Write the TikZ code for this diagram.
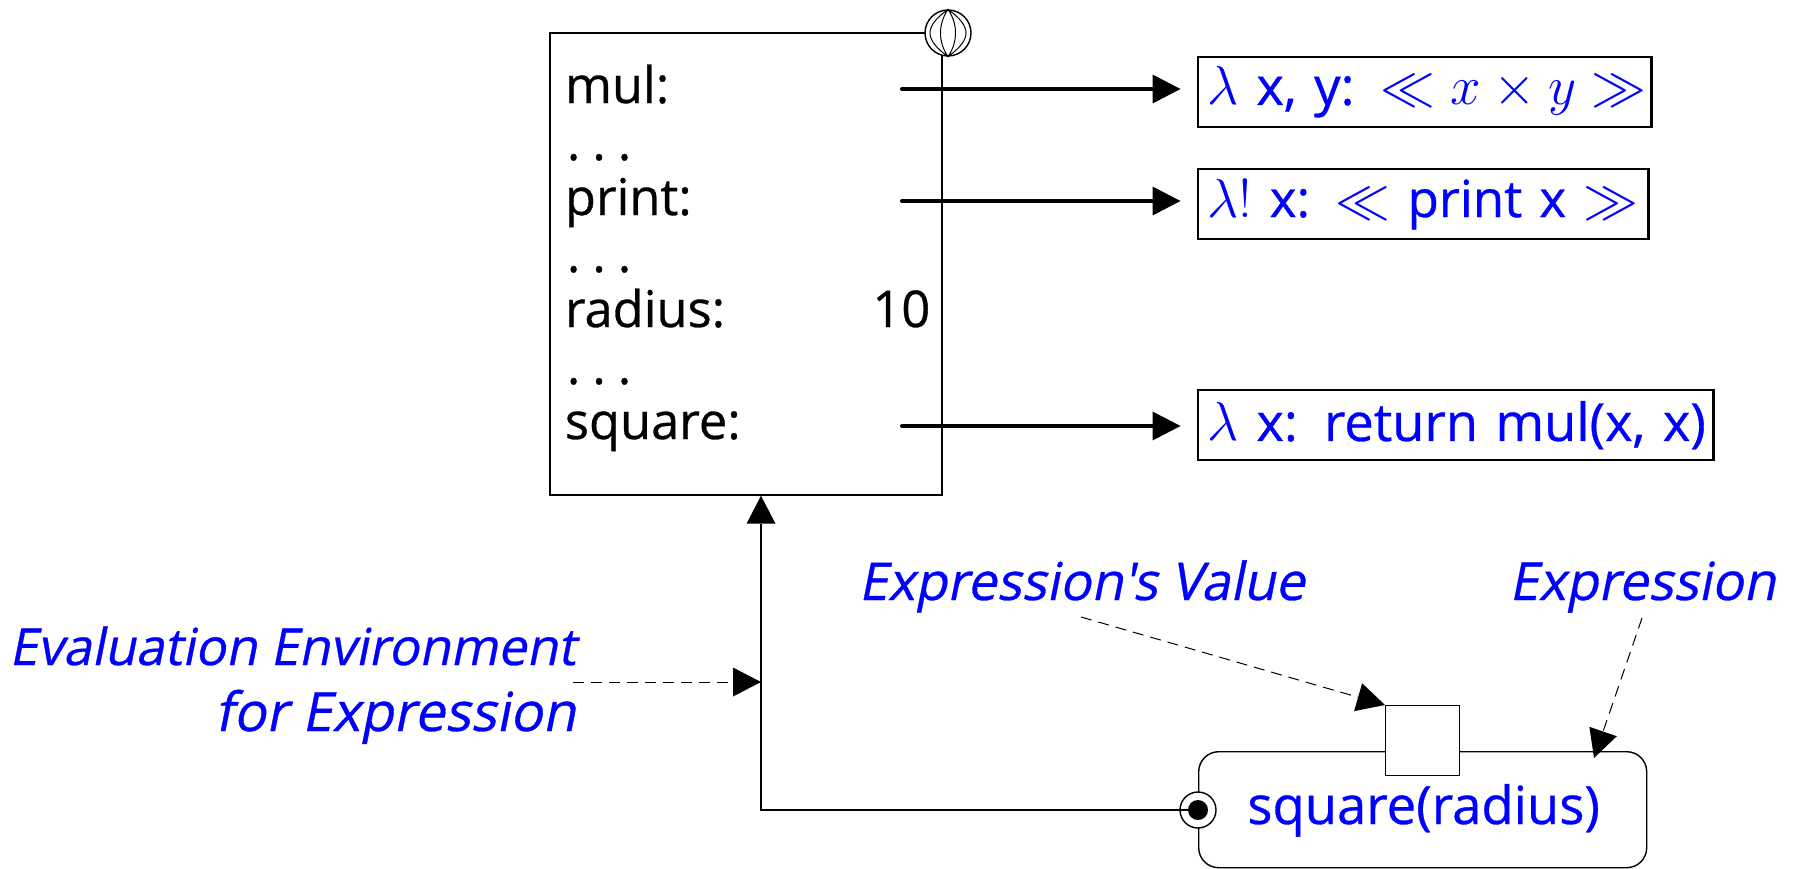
\documentclass[tikz,border=0pt]{standalone}
\usepackage{fontspec}
\setmainfont{Open Sans}
\newfontfamily\heavy[FakeBold=0.6]{Open Sans}
\newfontfamily\heavyit[FakeBold=0.6,FakeSlant=0.2]{Open Sans}
\newcommand{\dotrow}{.\hspace{6pt}.\hspace{6pt}.}
\newcommand{\bigmath}[1]{\scalebox{1.1}{$#1$}}
\usetikzlibrary{arrows.meta}
\tikzset{
  thinline/.style={line width=0.7pt,draw=black},
  head/.style={-{Triangle[length=14pt,width=14.5pt,line width=0pt]}},
  ptr/.style={head,line width=2pt,line cap=round,shorten >=8pt},
  note/.style={head,line width=0.5pt,dash pattern=on 5.5pt off 3.5pt},
  envtext/.style={anchor=base west,inner sep=0pt,font=\fontsize{25.3}{30}\selectfont\heavy},
  valbox/.style={draw=black,line width=1.2pt,anchor=north west,inner ysep=0pt,inner xsep=5pt,text=blue,font=\fontsize{26.2}{32}\selectfont\heavy,minimum height=35pt,align=left},
  bluenote/.style={anchor=base east,inner sep=0pt,text=blue},
}
\begin{document}
\begin{tikzpicture}[x=0.5pt,y=-0.5pt]
\useasboundingbox (0,0) rectangle (1794,868);
% environment
\node[thinline,rectangle,minimum width=196pt,minimum height=231pt,inner sep=0pt] (env) at (746,264) {};
\node[thinline,circle,fill=white,minimum size=23pt,inner sep=0pt] (globe) at (948,33) {};
\draw[line width=0.5pt] (globe.north) .. controls (924,27) and (924,39) .. (globe.south)
  .. controls (972,39) and (972,27) .. (globe.north)
  .. controls (938,24) and (938,42) .. (globe.south)
  .. controls (958,42) and (958,24) .. (globe.north);
\node[envtext] (mul) at (564.5,103) {mul:};
\node[envtext] (d1) at (566.5,160) {\dotrow};
\node[envtext] (print) at (564.5,215) {print:};
\node[envtext] (d2) at (566.5,272) {\dotrow};
\node[envtext] (radius) at (564.5,327) {radius:};
\node[envtext] (ten) at (872,327) {10};
\node[envtext] (d3) at (566.5,384) {\dotrow};
\node[envtext] (square) at (564.5,439) {square:};
% values
\node[valbox,text width=216.8pt] (v1) at (1196.5,56) {\mbox{\bigmath{\lambda} x, y: \bigmath{\ll x\times y\gg}}};
\node[valbox,text width=215.3pt,font=\fontsize{25.6}{32}\selectfont\heavy] (v2) at (1196.5,168) {\mbox{\bigmath{\lambda!} x: \bigmath{\ll} print x \bigmath{\gg}}};
\node[valbox,text width=247.8pt] (v3) at (1196.5,389) {\mbox{\bigmath{\lambda} x: return mul(x, x)}};
\coordinate (s1) at (902,89);
\coordinate (s2) at (902,201);
\coordinate (s3) at (902,426);
\draw[ptr] (s1) -- (s1 -| v1.west);
\draw[ptr] (s2) -- (s2 -| v2.west);
\draw[ptr] (s3) -- (s3 -| v3.west);
% expression
\node[draw=black,line width=0.7pt,rounded corners=10pt,minimum width=224pt,minimum height=58pt,inner sep=0pt,anchor=north west] (expr) at (1198,751) {};
\node[anchor=base west,inner sep=0pt,text=blue,font=\fontsize{26.3}{30}\selectfont\heavy] (etext) at (1247,824) {square(radius)};
\node[thinline,rectangle,fill=white,minimum width=37pt,minimum height=35pt,inner sep=0pt,anchor=north west] (val) at (1385,705) {};
\node[thinline,circle,fill=white,minimum size=18pt,inner sep=0pt] (port) at (1198,810) {};
\coordinate (bend) at (761,810);
\draw[head,thinline] (port.center) -- (bend) -- ([xshift=7.5pt]env.south);
\node[circle,fill=black,minimum size=10pt,inner sep=0pt] (dot) at (port) {};
% notes
\node[bluenote,font=\fontsize{25.5}{32}\selectfont\heavyit] (n1) at (576,665) {Evaluation Environment};
\node[bluenote,font=\fontsize{27}{32}\selectfont\heavyit] (n2) at (576,731) {for Expression};
\node[bluenote,font=\fontsize{26.1}{32}\selectfont\heavyit] (n3) at (1305,600) {Expression's Value};
\node[bluenote,font=\fontsize{26.3}{32}\selectfont\heavyit] (n4) at (1776,600) {Expression};
\coordinate (f1) at (573,682);
\coordinate (f2) at (1081,617);
\coordinate (f3) at (1642,618);
\coordinate (t3) at (1594,758);
\draw[note] (f1) -- (f1 -| bend);
\draw[note] (f2) -- (val.north west);
\draw[note] (f3) -- (t3);
\end{tikzpicture}
\end{document}
